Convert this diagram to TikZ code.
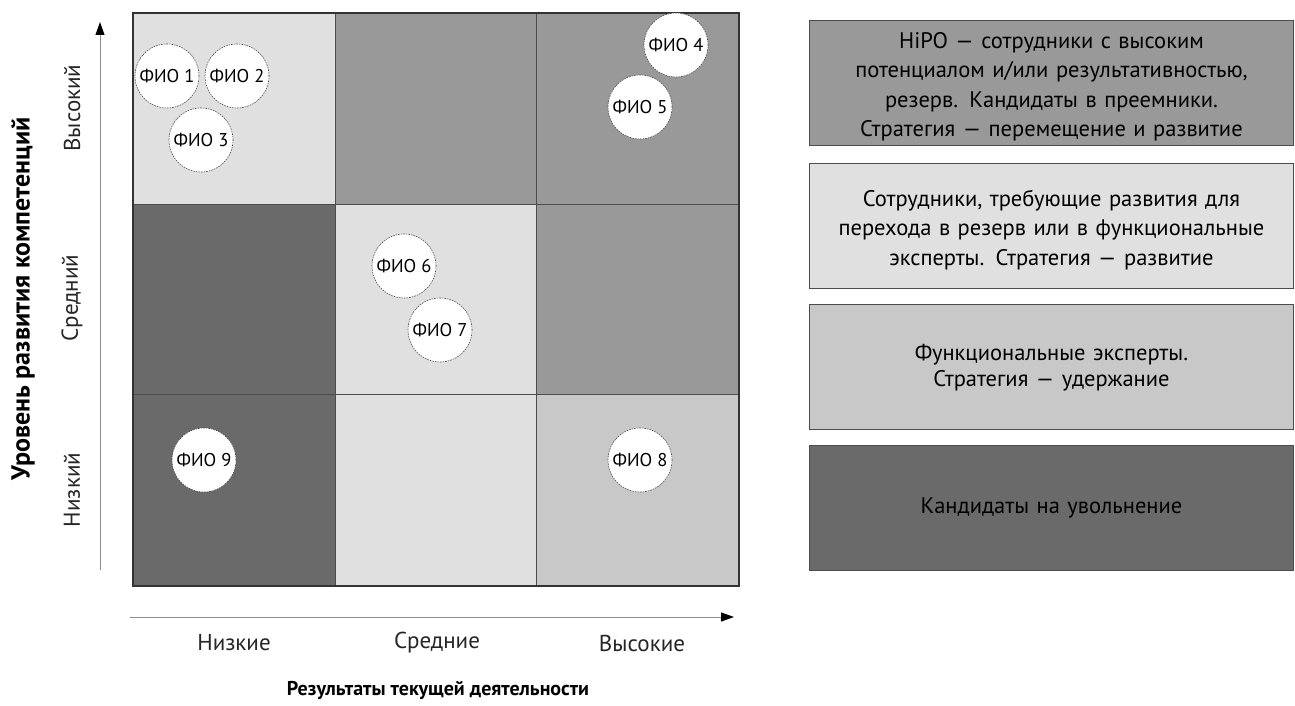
\documentclass[tikz,border=0pt]{standalone}
\usepackage{fontspec}
\setmainfont{PT Sans}
\usetikzlibrary{arrows.meta}
\definecolor{cLight}{HTML}{E0E0E0}
\definecolor{cMid}{HTML}{999999}
\definecolor{cMidL}{HTML}{C8C8C8}
\definecolor{cDark}{HTML}{6A6A6A}
\begin{document}
\begin{tikzpicture}[x=1pt,y=-1pt,
  cell/.style={draw=black!70, line width=0.9pt, minimum width=201.7pt, minimum height=190.7pt, inner sep=0pt, anchor=north west},
  person/.style={circle, draw=black!70, fill=white, line width=0.6pt, dash pattern=on 1.6pt off 1pt, minimum size=64pt, inner sep=0pt, font=\fontsize{18.5}{18.5}\selectfont},
  legendbox/.style={draw=black!70, line width=0.9pt, minimum width=484pt, minimum height=125pt, inner sep=0pt, anchor=north west},
  legendtext/.style={align=center, text width=480pt, inner sep=0pt, font=\fontsize{22.5}{29.5}\selectfont},
  axis/.style={draw=black!45, line width=1pt, -{Triangle[length=13pt,width=9pt,black]}},
  lvl/.style={font=\fontsize{23}{23}\selectfont, text=black!85},
  axtitle/.style={font=\bfseries\fontsize{20}{20}\selectfont}
]
\useasboundingbox (0,0) rectangle (1295,706);
\fill[white] (0,0) rectangle (1295,706);

% grid cells
\node[cell, fill=cLight] (c11) at (133,13) {};
\node[cell, fill=cMid]   (c12) at (334.7,13) {};
\node[cell, fill=cMid]   (c13) at (536.4,13) {};
\node[cell, fill=cDark]  (c21) at (133,203.7) {};
\node[cell, fill=cLight] (c22) at (334.7,203.7) {};
\node[cell, fill=cMid]   (c23) at (536.4,203.7) {};
\node[cell, fill=cDark]  (c31) at (133,394.4) {};
\node[cell, fill=cLight] (c32) at (334.7,394.4) {};
\node[cell, fill=cMidL]  (c33) at (536.4,394.4) {};
\draw[black!80, line width=1.2pt] (c11.north west) rectangle (c33.south east);

% people
\node[person] (p1) at (167,76) {ФИО 1};
\node[person] (p2) at (237,76) {ФИО 2};
\node[person] (p3) at (201,140) {ФИО 3};
\node[person] (p4) at (676,45) {ФИО 4};
\node[person] (p5) at (640,107) {ФИО 5};
\node[person] (p6) at (404,266) {ФИО 6};
\node[person] (p7) at (440,330) {ФИО 7};
\node[person] (p8) at (640,460) {ФИО 8};
\node[person] (p9) at (204,460) {ФИО 9};

% axes
\coordinate (yb) at (100,570);
\coordinate (yt) at (100,22);
\coordinate (xb) at (130,617);
\coordinate (xt) at (734,617);
\draw[axis] (yb) -- (yt);
\draw[axis] (xb) -- (xt);

\node[lvl, rotate=90] (yl1) at (72,108) {Высокий};
\node[lvl, rotate=90] (yl2) at (72,298) {Средний};
\node[lvl, rotate=90] (yl3) at (72,490) {Низкий};
\node[axtitle, rotate=90, font=\bfseries\fontsize{26}{26}\selectfont] (ytitle) at (23,299) {Уровень развития компетенций};

\node[lvl] (xl1) at (234,643) {Низкие};
\node[lvl] (xl2) at (437,643) {Средние};
\node[lvl] (xl3) at (642,643) {Высокие};
\node[axtitle] (xtitle) at (438,690) {Результаты текущей деятельности};

% legend
\node[legendbox, fill=cMid] (l1) at (809,20) {};
\node[legendbox, fill=cLight] (l2) at (809,163) {};
\node[legendbox, fill=cMidL] (l3) at (809,304) {};
\node[legendbox, fill=cDark] (l4) at (809,445) {};
\node[legendtext] (l1t) at ([yshift=-4pt]l1.center) {HiPO — сотрудники с высоким\\потенциалом и/или результативностью,\\резерв. Кандидаты в преемники.\\Стратегия — перемещение и развитие};
\node[legendtext] (l2t) at ([yshift=-4pt]l2.center) {Сотрудники, требующие развития для\\перехода в резерв или в функциональные\\эксперты. Стратегия — развитие};
\node[legendtext, font=\fontsize{22.5}{26.5}\selectfont] (l3t) at ([yshift=-1pt]l3.center) {Функциональные эксперты.\\Стратегия — удержание};
\node[legendtext] (l4t) at (l4.center) {Кандидаты на увольнение};
\end{tikzpicture}
\end{document}
